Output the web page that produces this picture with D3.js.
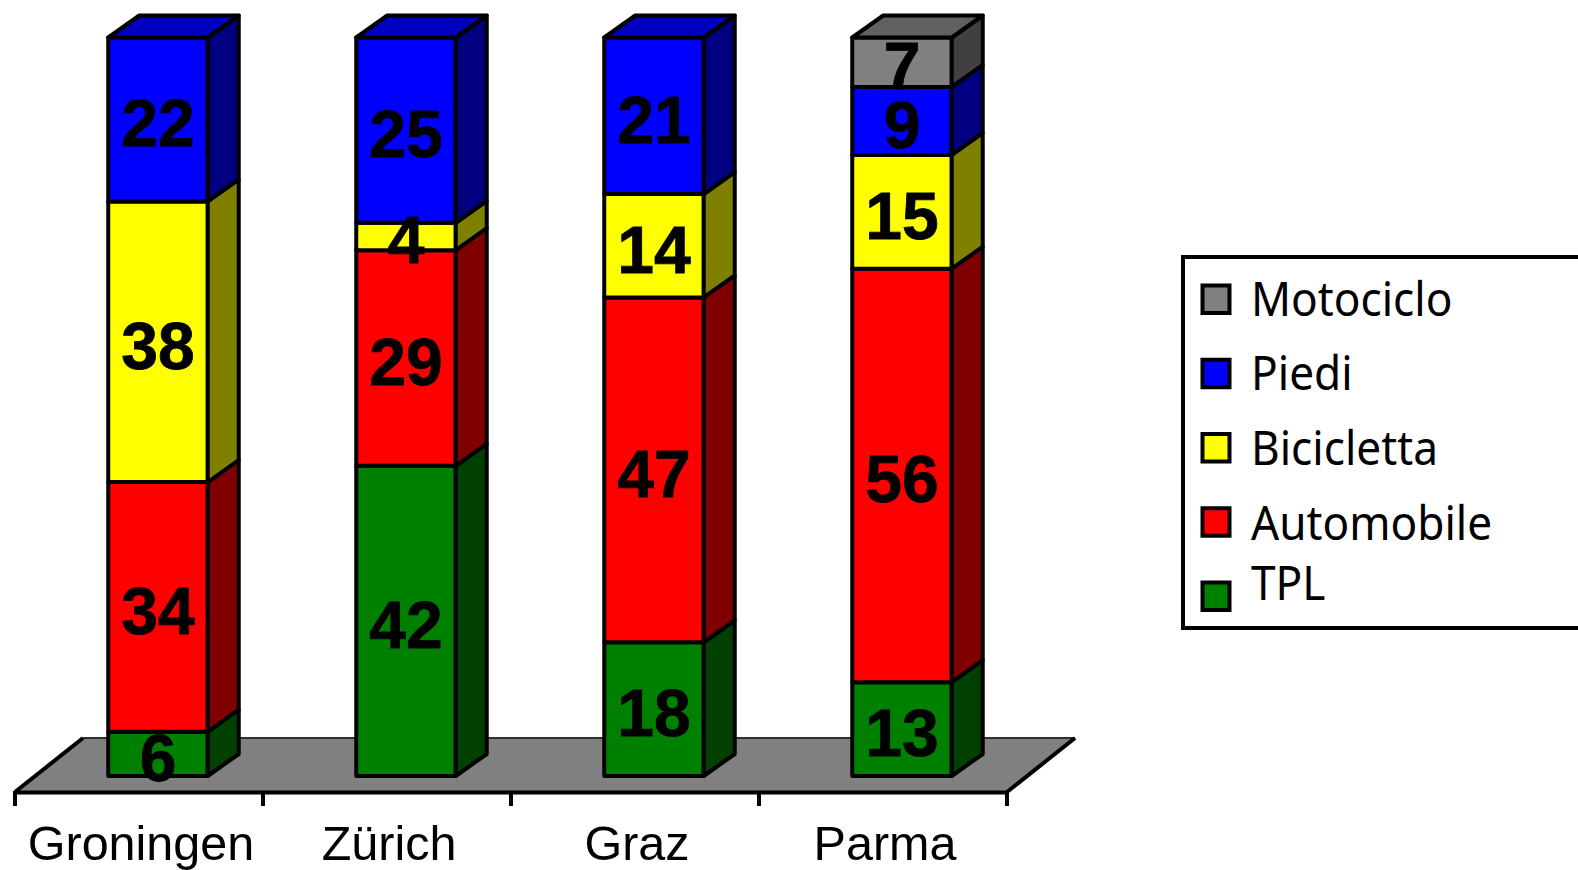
<!DOCTYPE html>
<html>
<head>
<meta charset="utf-8">
<script src="https://cdn.jsdelivr.net/npm/d3@7"></script>
<style>
    body { margin: 0; background: #fff; overflow: hidden; }
    svg { display: block; }
</style>
</head>
<body>
<svg id="chart" width="1578" height="870"></svg>
<script>
const cities = ["Groningen", "Zürich", "Graz", "Parma"];
const modes = ["TPL", "Automobile", "Bicicletta", "Piedi", "Motociclo"];
// labels show these rounded
const tpl = [6, 42, 18.1, 12.7];
const automobile = [33.8, 29.2, 46.7, 56];
const bicicletta = [38, 3.7, 14, 15.4];
const piedi = [22.2, 25.1, 21.2, 9.2];
const motociclo = [0, 0, 0, 6.7];
const faceColors = ["#008000", "#ff0000", "#ffff00", "#0000ff", "#808080"];
const sideColors = ["#004000", "#800000", "#808000", "#000080", "#404040"];
const topColors = ["#006000", "#bf0000", "#bfbf00", "#0000bf", "#606060"];

const svg = d3.select("#chart");

// chart geometry
const floorY = 792, barBase = 776, barTop = 37.5;
const floorDx = 68, floorDy = 54;
const depthX = 31, depthY = 22;
const barWidth = 99.5;
const barShift = 19; // bars sit in the middle of the floor depth
const lineWidth = 4;

const x = d3.scaleBand().domain(cities).range([15, 1007]);
const y = d3.scaleLinear().domain([0, 100]).range([barBase, barTop]);

const rows = cities.map((city, i) => ({
    city,
    TPL: tpl[i],
    Automobile: automobile[i],
    Bicicletta: bicicletta[i],
    Piedi: piedi[i],
    Motociclo: motociclo[i]
}));
const series = d3.stack().keys(modes)(rows);

// floor
const x0 = x.range()[0], x1 = x.range()[1];
svg.append("path")
    .attr("d", `M${x0},${floorY}L${x0 + floorDx},${floorY - floorDy}L${x1 + floorDx},${floorY - floorDy}L${x1},${floorY}Z`)
    .attr("fill", "#808080")
    .attr("stroke", "none");
svg.append("path")
    .attr("d", `M${x0 + floorDx},${floorY - floorDy}L${x1 + floorDx},${floorY - floorDy}`)
    .attr("stroke", "#303030")
    .attr("stroke-width", 2);
svg.append("path")
    .attr("d", `M${x0 + floorDx},${floorY - floorDy}L${x0},${floorY}M${x1 + floorDx},${floorY - floorDy}L${x1},${floorY}`)
    .attr("stroke", "#000")
    .attr("stroke-width", lineWidth);

// axis: labels from d3.axisBottom, ticks sit on the band edges
const axis = svg.append("g")
    .attr("transform", `translate(0,${floorY})`)
    .call(d3.axisBottom(x).tickSize(0).tickPadding(34));
axis.select(".domain").attr("stroke", "#000").attr("stroke-width", lineWidth);
axis.selectAll("text")
    .attr("dx", 2)
    .attr("font-family", "'Liberation Sans', Arial, sans-serif")
    .attr("font-size", 48.5)
    .attr("fill", "#000");
axis.selectAll("line.edge")
    .data(d3.range(cities.length + 1))
    .join("line")
    .attr("class", "edge")
    .attr("x1", d => x0 + d * x.step())
    .attr("x2", d => x0 + d * x.step())
    .attr("y1", -1)
    .attr("y2", 14)
    .attr("stroke", "#000")
    .attr("stroke-width", lineWidth);

const barX = city => x(city) + (x.bandwidth() - barWidth) / 2 + barShift;

// bars
const barsG = svg.append("g")
    .attr("stroke", "#000")
    .attr("stroke-width", lineWidth)
    .attr("stroke-linejoin", "round");

series.forEach((s, si) => {
    s.forEach(d => {
        if (d[1] === d[0]) return;
        const left = barX(d.data.city), right = left + barWidth;
        const yLow = y(d[0]), yHigh = y(d[1]);
        barsG.append("rect")
            .attr("x", left).attr("y", yHigh)
            .attr("width", barWidth).attr("height", yLow - yHigh)
            .attr("fill", faceColors[si]);
        barsG.append("path")
            .attr("d", `M${right},${yLow}L${right + depthX},${yLow - depthY}L${right + depthX},${yHigh - depthY}L${right},${yHigh}Z`)
            .attr("fill", sideColors[si]);
        if (Math.round(d[1]) === 100) {
            barsG.append("path")
                .attr("d", `M${left},${yHigh}L${left + depthX},${yHigh - depthY}L${right + depthX},${yHigh - depthY}L${right},${yHigh}Z`)
                .attr("fill", topColors[si]);
        }
    });
});

// value labels
const labelsG = svg.append("g")
    .attr("font-family", "'Liberation Sans', Arial, sans-serif")
    .attr("font-weight", "bold")
    .attr("font-size", 66)
    .attr("text-anchor", "middle")
    .attr("fill", "#000")
    .attr("stroke", "#000")
    .attr("stroke-width", 0.8);

series.forEach(s => {
    s.forEach(d => {
        if (d[1] === d[0]) return;
        labelsG.append("text")
            .attr("x", barX(d.data.city) + barWidth / 2)
            .attr("y", (y(d[0]) + y(d[1])) / 2 + 3)
            .attr("dy", "0.36em")
            .text(Math.round(d[1] - d[0]));
    });
});

// legend
const legendOrder = modes.slice().reverse();
const legendColors = faceColors.slice().reverse();
const swatchY = d3.scalePoint().domain(legendOrder).range([284, 581]);
const labelBaseline = [316, 390, 465, 540, 600];

const legend = svg.append("g");
legend.append("rect")
    .attr("x", 1183).attr("y", 257)
    .attr("width", 420).attr("height", 371)
    .attr("fill", "#fff")
    .attr("stroke", "#000")
    .attr("stroke-width", lineWidth);
legendOrder.forEach((name, i) => {
    legend.append("rect")
        .attr("x", 1202.5).attr("y", swatchY(name) + 1.5)
        .attr("width", 27).attr("height", 27.5)
        .attr("fill", legendColors[i])
        .attr("stroke", "#000")
        .attr("stroke-width", lineWidth);
    // Noto Sans runs a bit wider than the original face, squeeze it
    legend.append("text")
        .attr("transform", `translate(1251,${labelBaseline[i]}) scale(0.94,1)`)
        .attr("font-family", "'Noto Sans', sans-serif")
        .attr("font-size", 47)
        .attr("fill", "#000")
        .text(name);
});
</script>
</body>
</html>
